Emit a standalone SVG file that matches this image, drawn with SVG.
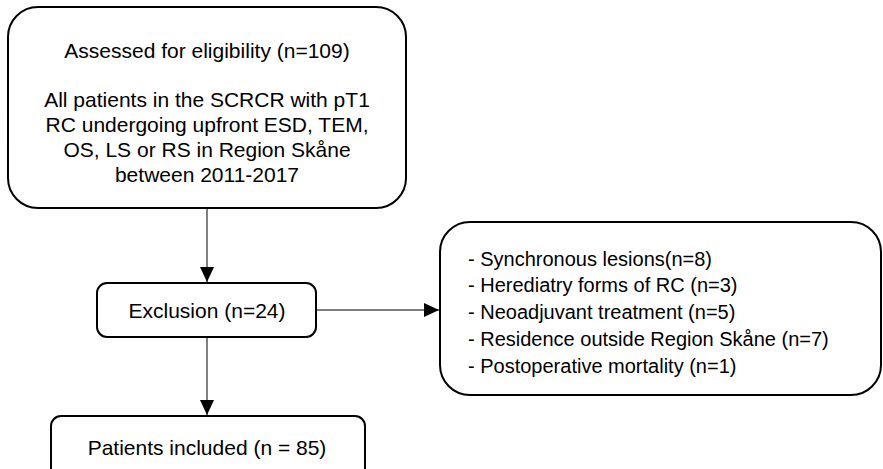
<svg xmlns="http://www.w3.org/2000/svg" width="883" height="469" viewBox="0 0 883 469">
<style>
.box{fill:#fff;stroke:#000;stroke-width:2}
.t{font-family:"Liberation Sans",Arial,sans-serif;font-size:21px;fill:#000}
.c{text-anchor:middle}
.e{font-size:20px}
.ln{stroke:#000;stroke-width:1;fill:none}
</style>
<defs>
<marker id="ah" viewBox="0 0 15 14" refX="15" refY="7" markerWidth="15" markerHeight="14" markerUnits="userSpaceOnUse" orient="auto">
<path d="M0,0 L15,7 L0,14 Z" fill="#000"/>
</marker>
</defs>
<g id="connectors">
<line class="ln" x1="207" y1="208" x2="207" y2="282" marker-end="url(#ah)"/>
<line class="ln" x1="207" y1="337" x2="207" y2="415" marker-end="url(#ah)"/>
<line class="ln" x1="316" y1="310" x2="439" y2="310" marker-end="url(#ah)"/>
</g>
<g id="assessed">
<rect class="box" x="8" y="7" width="398" height="201" rx="30" ry="30"/>
<text class="t c" x="207" y="58">Assessed for eligibility (n=109)</text>
<text class="t c" x="207" y="107">All patients in the SCRCR with pT1</text>
<text class="t c" x="207" y="132">RC undergoing upfront ESD, TEM,</text>
<text class="t c" x="207" y="157">OS, LS or RS in Region Skåne</text>
<text class="t c" x="207" y="182">between 2011-2017</text>
</g>
<g id="exclusion">
<rect class="box" x="97" y="283" width="219" height="54" rx="10" ry="10"/>
<text class="t c" x="207" y="318">Exclusion (n=24)</text>
</g>
<g id="reasons">
<rect class="box" x="440" y="222" width="441" height="173" rx="30" ry="30"/>
<text class="t e" x="468" y="266">- Synchronous lesions(n=8)</text>
<text class="t e" x="468" y="292">- Herediatry forms of RC (n=3)</text>
<text class="t e" x="468" y="319">- Neoadjuvant treatment (n=5)</text>
<text class="t e" x="468" y="346">- Residence outside Region Skåne (n=7)</text>
<text class="t e" x="468" y="373">- Postoperative mortality (n=1)</text>
</g>
<g id="included">
<rect class="box" x="51" y="416" width="314" height="70" rx="10" ry="10"/>
<text class="t c" x="207" y="455">Patients included (n = 85)</text>
</g>
</svg>
